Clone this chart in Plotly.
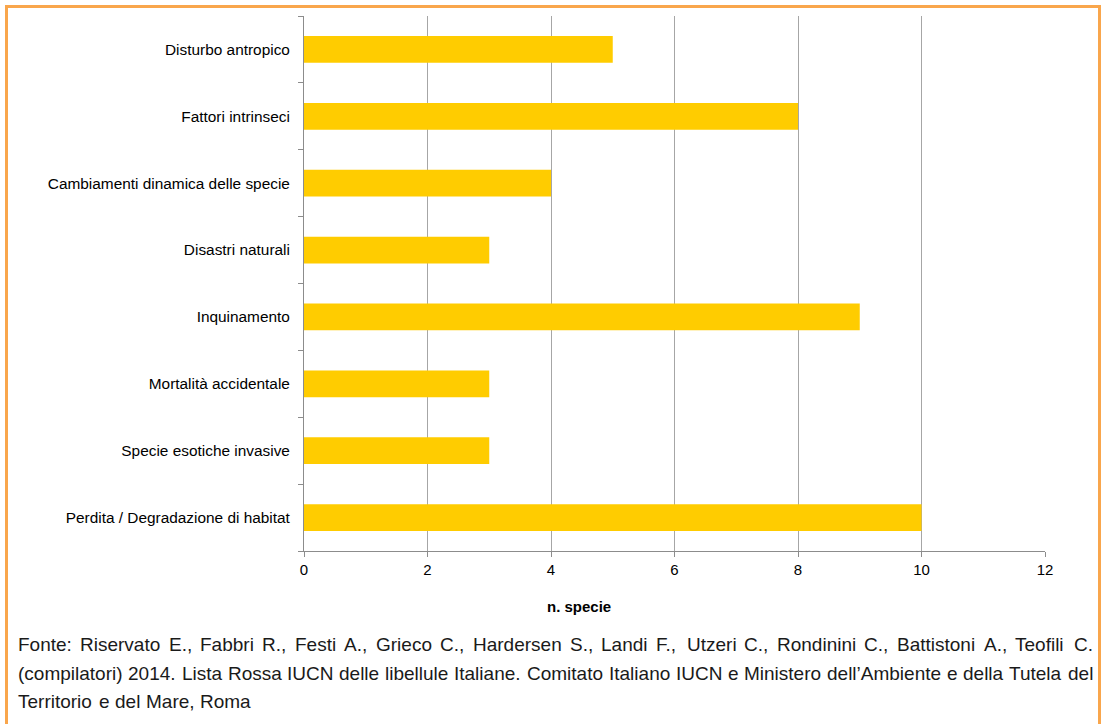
import plotly.graph_objects as go

# Threat categories (bottom to top) and number of species affected
categories = [
    "Perdita / Degradazione di habitat",
    "Specie esotiche invasive",
    "Mortalità accidentale",
    "Inquinamento",
    "Disastri naturali",
    "Cambiamenti dinamica delle specie",
    "Fattori intrinseci",
    "Disturbo antropico",
]
n_species = [10, 3, 3, 9, 3, 4, 8, 5]

x_ticks = [0, 2, 4, 6, 8, 10, 12]
x_title = "n. specie"

source_lines = [
    "Fonte: Riservato E., Fabbri R., Festi A., Grieco C., Hardersen S., Landi F., Utzeri C., Rondinini C., Battistoni A., Teofili C.",
    "(compilatori) 2014. Lista Rossa IUCN delle libellule Italiane. Comitato Italiano IUCN e Ministero dell\u2019Ambiente e della Tutela del",
    "Territorio e del Mare, Roma",
]

# ---- page geometry (pixels) ----
W, H = 1104, 724
M_L, M_R, M_T, M_B = 304, 59, 16, 173
PW = W - M_L - M_R
PH = H - M_T - M_B


def paper_x(px):
    return (px - M_L) / PW


def paper_y(py):
    return (H - M_B - py) / PH


LABEL_FONT = "Liberation Sans, Arial, sans-serif"
NOTE_FONT = "Liberation Sans, Arial, sans-serif"
NOTE_SIZE = 19

# advance widths (1/1000 em) of the Arial-metric face used for the note
ADV = {
    "a": 556, "b": 556, "c": 500, "d": 556, "e": 556, "f": 278, "g": 556,
    "h": 556, "i": 222, "l": 222, "m": 833, "n": 556, "o": 556, "p": 556,
    "r": 333, "s": 500, "t": 278, "u": 556, "v": 500, "z": 500,
    "A": 667, "B": 667, "C": 722, "E": 667, "F": 611, "G": 778, "H": 722,
    "I": 278, "L": 556, "M": 833, "N": 722, "R": 722, "S": 667, "T": 611,
    "U": 722, ".": 278, ",": 278, ":": 278, "(": 333, ")": 333,
    "\u2019": 222, " ": 278,
}
for d in "0123456789":
    ADV[d] = 556


def word_width(word, size):
    return sum(ADV.get(ch, 556) for ch in word) * size / 1000.0


fig = go.Figure()
fig.add_trace(
    go.Bar(
        x=n_species,
        y=categories,
        orientation="h",
        marker=dict(color="#FFCC00", line=dict(width=0)),
        hoverinfo="x+y",
    )
)

annotations = [
    dict(
        text="<b>" + x_title + "</b>",
        xref="paper", yref="paper",
        x=paper_x(579), y=paper_y(606),
        xanchor="center", yanchor="middle",
        showarrow=False,
        font=dict(family=LABEL_FONT, size=15, color="#000000"),
    )
]

# justified source note below the chart (last line left-aligned)
line_left, line_right = 17, 1092
line_mid_y = [645, 673, 701]
for i, line in enumerate(source_lines):
    words = line.split(" ")
    widths = [word_width(w, NOTE_SIZE) for w in words]
    justify = i < len(source_lines) - 1
    if justify and len(words) > 1:
        gap = (line_right - line_left - sum(widths)) / (len(words) - 1)
    else:
        gap = ADV[" "] * NOTE_SIZE / 1000.0
    pos = line_left
    for w, ww in zip(words, widths):
        annotations.append(
            dict(
                text=w,
                xref="paper", yref="paper",
                x=paper_x(pos), y=paper_y(line_mid_y[i]),
                xanchor="left", yanchor="middle",
                showarrow=False, borderpad=0,
                font=dict(family=NOTE_FONT, size=NOTE_SIZE, color="#1a1a1a"),
            )
        )
        pos += ww + gap

# orange frame (open at the bottom)
frame = dict(
    type="path",
    xref="paper", yref="paper",
    path="M {l},{b} L {l},{t} L {r},{t} L {r},{b}".format(
        l=paper_x(6.5), r=paper_x(1099.5), t=paper_y(6.5), b=paper_y(760)
    ),
    line=dict(color="#F9A64C", width=3),
    layer="above",
)

fig.update_layout(
    width=W, height=H, autosize=False,
    margin=dict(l=M_L, r=M_R, t=M_T, b=M_B, pad=0),
    paper_bgcolor="white", plot_bgcolor="white",
    showlegend=False,
    bargap=0.6,
    font=dict(family=LABEL_FONT, size=15, color="#000000"),
    xaxis=dict(
        range=[0, 12],
        tickmode="array", tickvals=x_ticks, ticktext=[str(v) for v in x_ticks],
        showgrid=True, gridcolor="#A6A6A6", gridwidth=1,
        showline=True, linecolor="#8C8C8C", linewidth=1,
        ticks="outside", ticklen=5, tickcolor="#8C8C8C", tickwidth=1,
        tickfont=dict(family=LABEL_FONT, size=15, color="#000000"),
        zeroline=False, fixedrange=True,
    ),
    yaxis=dict(
        type="category",
        categoryorder="array", categoryarray=categories,
        showgrid=False,
        showline=True, linecolor="#8C8C8C", linewidth=1,
        ticks="outside", ticklen=5, tickcolor="#8C8C8C", tickwidth=1,
        tickson="boundaries",
        ticklabelstandoff=10,
        tickfont=dict(family=LABEL_FONT, size=15.4, color="#000000"),
        zeroline=False, fixedrange=True,
    ),
    annotations=annotations,
    shapes=[frame],
)

fig.write_html("out.html", config={"displayModeBar": False})
